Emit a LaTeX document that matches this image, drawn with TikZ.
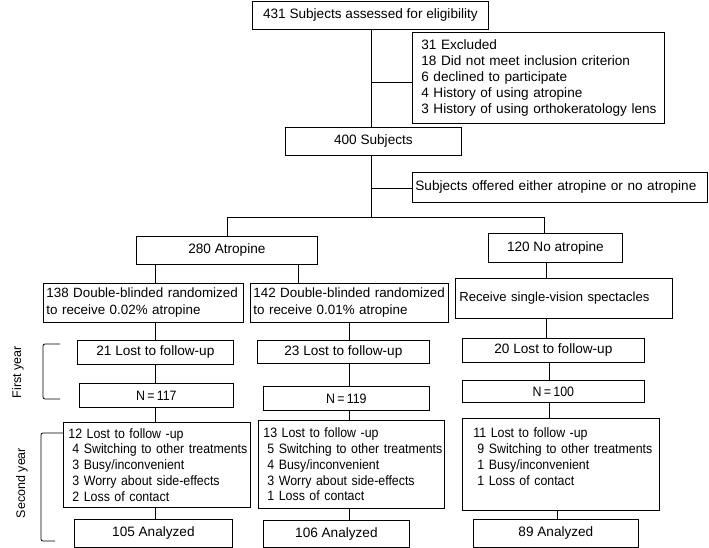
\documentclass[tikz,border=0pt]{standalone}
\usepackage{fontspec}
\setmainfont{Liberation Sans}
\newfontfamily\narrowf[FakeStretch=0.91]{Liberation Sans}
\newcommand\fs{\fontsize{13.6}{16}\selectfont}
\newcommand\fsd{\fontsize{13.4}{17}\selectfont}
\newcommand\fsr{\fontsize{13.1}{16}\selectfont}
\newcommand\fsn{\narrowf\fontsize{13.6}{15.8}\selectfont}
\newcommand\fsl{\fontsize{12.5}{15}\selectfont}
\begin{document}
\begin{tikzpicture}[x=1pt,y=-1pt,
  box/.style={draw=black, line width=0.8pt, inner sep=0pt, font=\fs},
  lbox/.style={box, align=left, anchor=north west},
  cbox/.style={box, align=center, anchor=north west},
  link/.style={draw=black, line width=0.8pt}]
\fill[white] (0,0) rectangle (709,548);
\useasboundingbox (0,0) rectangle (709,548);

% boxes
\node[cbox, minimum width=236pt, minimum height=28pt] (top) at (252,1) {431 Subjects assessed for eligibility};
\node[lbox, inner xsep=9pt, text width=234pt, minimum height=91pt] (excl) at (412,32)
  {\mbox{31 Excluded}\\\mbox{18 Did not meet inclusion criterion}\\\mbox{6 declined to participate}\\\mbox{4 History of using atropine}\\\mbox{3 History of using orthokeratology lens}};
\node[cbox, minimum width=176pt, minimum height=28pt] (s400) at (285,127) {400 Subjects};
\node[lbox, inner xsep=3pt, text width=289pt, minimum height=30pt] (offered) at (412,172)
  {\mbox{Subjects offered either atropine or no atropine}};
\node[cbox, minimum width=181pt, minimum height=28pt] (atro) at (136,236) {280 Atropine};
\node[cbox, minimum width=134pt, minimum height=29pt] (noatro) at (488,233) {120 No atropine};

\node[lbox, font=\fsd, inner xsep=3pt, text width=194pt, minimum height=39pt] (b138) at (43,283)
  {\mbox{138 Double-blinded randomized}\\\mbox{to receive 0.02\% atropine}};
\node[lbox, font=\fsd, inner xsep=3pt, text width=192pt, minimum height=39pt] (b142) at (250,283)
  {\mbox{142 Double-blinded randomized}\\\mbox{to receive 0.01\% atropine}};
\node[lbox, font=\fsr, inner xsep=4pt, text width=209pt, minimum height=40pt] (recv) at (455,278)
  {\mbox{Receive single-vision spectacles}};

\node[cbox, minimum width=156pt, minimum height=24pt] (lost21) at (77,340) {21 Lost to follow-up};
\node[cbox, minimum width=172pt, minimum height=23pt] (lost23) at (257,340) {23 Lost to follow-up};
\node[cbox, minimum width=182pt, minimum height=24pt] (lost20) at (462,338) {20 Lost to follow-up};

\node[cbox, font=\fsn, minimum width=154pt, minimum height=24pt] (n117) at (79,383) {N\,=\,117};
\node[cbox, font=\fsn, minimum width=166pt, minimum height=24pt] (n119) at (263,386) {N\,=\,119};
\node[cbox, font=\fsn, minimum width=182pt, minimum height=22pt] (n100) at (462,380) {N\,=\,100};

\node[lbox, font=\fsn, inner xsep=5pt, text width=177pt, minimum height=85pt] (y2a) at (63,422)
  {\mbox{12 Lost to follow -up}\\\mbox{\hspace*{4pt}4 Switching to other treatments}\\\mbox{\hspace*{4pt}3 Busy/inconvenient}\\\mbox{\hspace*{4pt}3 Worry about side-effects}\\\mbox{\hspace*{4pt}2 Loss of contact}};
\node[lbox, font=\fsn, inner xsep=5pt, text width=176pt, minimum height=88pt] (y2b) at (258,420)
  {\mbox{13 Lost to follow -up}\\\mbox{\hspace*{4pt}5 Switching to other treatments}\\\mbox{\hspace*{4pt}4 Busy/inconvenient}\\\mbox{\hspace*{4pt}3 Worry about side-effects}\\\mbox{\hspace*{4pt}1 Loss of contact}};
\node[lbox, font=\fsn, inner xsep=11pt, text width=175pt, minimum height=92pt] (y2c) at (462,418)
  {\mbox{11 Lost to follow -up}\\\mbox{\hspace*{4pt}9 Switching to other treatments}\\\mbox{\hspace*{4pt}1 Busy/inconvenient}\\\mbox{\hspace*{4pt}1 Loss of contact}\\\mbox{}};

\node[cbox, minimum width=158pt, minimum height=28pt] (an105) at (74,519) {105 Analyzed};
\node[cbox, minimum width=146pt, minimum height=27pt] (an106) at (263,520) {106 Analyzed};
\node[cbox, minimum width=165pt, minimum height=28pt] (an89) at (473,519) {89 Analyzed};

% side labels
\node[rotate=90, font=\fsl, inner sep=0pt] (fy) at (18,372) {First year};
\node[rotate=90, font=\fsl, inner sep=0pt] (sy) at (22,483) {Second year};

% junction coordinates
\coordinate (xa) at (371,0);
\coordinate (j1) at (371,82);
\coordinate (j2) at (371,188);
\coordinate (hL) at (227,217);
\coordinate (hR) at (544,217);
\coordinate (c1) at (155,0);
\coordinate (c2) at (298,0);
\coordinate (c3) at (349,0);
\coordinate (c4) at (546,0);
\coordinate (c5) at (549,0);
\coordinate (c6) at (557,0);

% connectors
\draw[link] (xa |- top.south) -- (xa |- s400.north);
\draw[link] (j1) -- (j1 -| excl.west);
\draw[link] (xa |- s400.south) -- (xa |- hL);
\draw[link] (j2) -- (j2 -| offered.west);
\draw[link] (hL |- atro.north) -- (hL) -- (hR) -- (hR |- noatro.north);

\draw[link] (c1 |- atro.south) -- (c1 |- b138.north);
\draw[link] (c2 |- atro.south) -- (c2 |- b142.north);
\draw[link] (c4 |- noatro.south) -- (c4 |- recv.north);

\draw[link] (c1 |- b138.south) -- (c1 |- lost21.north);
\draw[link] (c1 |- lost21.south) -- (c1 |- n117.north);
\draw[link] (c1 |- n117.south) -- (c1 |- y2a.north);
\draw[link] (c1 |- y2a.south) -- (c1 |- an105.north);

\draw[link] (c3 |- b142.south) -- (c3 |- lost23.north);
\draw[link] (c3 |- lost23.south) -- (c3 |- n119.north);
\draw[link] (c3 |- n119.south) -- (c3 |- y2b.north);
\draw[link] (c3 |- y2b.south) -- (c3 |- an106.north);

\draw[link] (c4 |- recv.south) -- (c4 |- lost20.north);
\draw[link] (c5 |- lost20.south) -- (c5 |- n100.north);
\draw[link] (c5 |- n100.south) -- (c5 |- y2c.north);
\draw[link] (c6 |- y2c.south) -- (c6 |- an89.north);

% brackets
\draw[link, rounded corners=2pt] (60,344) -- (43,344) -- (43,399) -- (60,399);
\draw[link, rounded corners=2pt] (63,433) -- (41,433) -- (41,541) -- (55,541);
\end{tikzpicture}
\end{document}
